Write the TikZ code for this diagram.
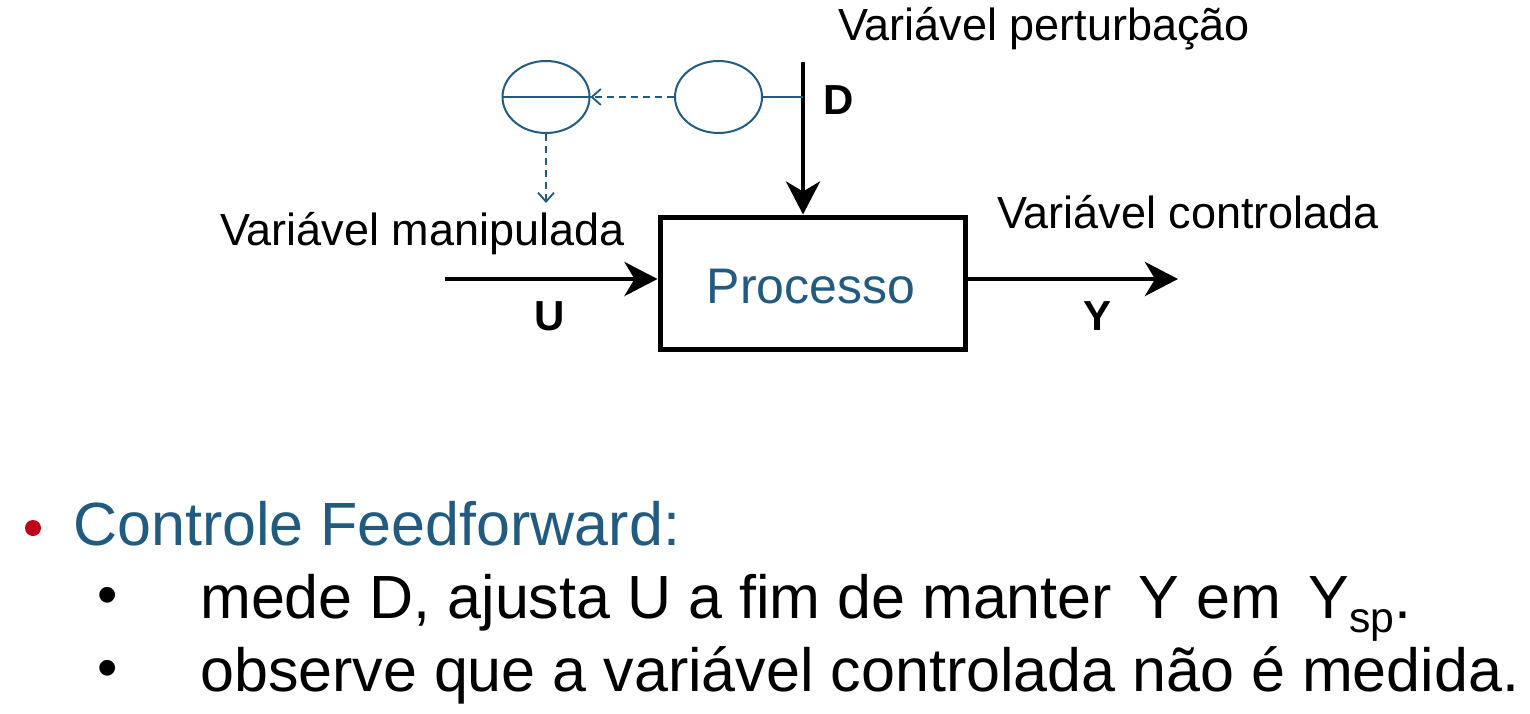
\documentclass[tikz,border=0pt]{standalone}
\usepackage{fontspec}
\setmainfont{Liberation Sans}
\usetikzlibrary{arrows.meta,shapes.geometric}
\definecolor{ffblue}{HTML}{215B7F}
\definecolor{ffred}{HTML}{C00018}
\tikzset{
  bigarrow/.style={line width=4.6pt,-{Stealth[length=33pt,width=34pt,inset=10pt]}},
  instr/.style={ellipse,draw=ffblue,line width=2pt,minimum width=87pt,minimum height=72pt,inner sep=0pt},
  sig/.style={draw=ffblue,line width=1.8pt,dash pattern=on 7pt off 5pt,-{Straight Barb[length=9pt,width=16pt]}},
  lbl/.style={inner sep=0pt,font=\fontsize{45}{54}\selectfont},
  blbl/.style={inner sep=0pt,font=\fontsize{42}{50}\selectfont\bfseries},
  txt/.style={inner sep=0pt,anchor=base west,font=\fontsize{61}{72}\selectfont},
  subbul/.style={inner sep=0pt,font=\fontsize{58}{60}\selectfont},
}
\begin{document}
\begin{tikzpicture}[x=1pt,y=-1pt]
\useasboundingbox[fill=white] (0,0) rectangle (1530,714);
% process box
\node[draw,line width=5pt,minimum width=305pt,minimum height=132pt,inner sep=0pt] (proc) at (812.5,283) {};
\node[inner sep=0pt,anchor=base,font=\fontsize{50}{60}\selectfont,text=ffblue] (ptxt) at (811,303) {Processo};
% inputs/outputs
\coordinate (uin) at (445,279);
\coordinate (yout) at (1178,279);
\coordinate (dtop) at (803,62);
\draw[bigarrow] (uin) -- (uin -| proc.west);
\draw[bigarrow] (proc.east |- yout) -- (yout);
\draw[bigarrow] (dtop) -- (dtop |- proc.north);
% labels
\node[blbl] (U) at (550,316) {U};
\node[blbl] (Y) at (1097,316) {Y};
\node[blbl] (D) at (839,100) {D};
\node[lbl,anchor=base west] (vp) at (838,41) {Variável perturbação};
\node[lbl,anchor=base west] (vm) at (220,245) {Variável manipulada};
\node[lbl,anchor=base west] (vc) at (997,228) {Variável controlada};
% feedforward instruments
\node[instr] (ft) at (718.5,97) {};
\node[instr] (fc) at (546,97) {};
\draw[draw=ffblue,line width=1.8pt] (fc.west) -- (fc.east);
\coordinate (tap) at (803,97);
\draw[draw=ffblue,line width=1.6pt] (ft.east) -- (tap);
\draw[sig] (ft.west) -- (fc.east);
\coordinate (uend) at (546,203);
\draw[sig] (fc.south) -- (uend);
% bullet text
\node[circle,fill=ffred,inner sep=0pt,minimum size=16pt] (b0) at (33,528) {};
\node[txt,text=ffblue] (t0) at (73,545) {Controle Feedforward:};
\node[subbul] (b1) at (108,601) {•};
\node[txt] (t1) at (200,618) {mede D, ajusta U a fim de manter\ \hspace{10pt}Y em\ \hspace{10pt}Y\textsubscript{sp}.};
\node[subbul] (b2) at (108,674) {•};
\node[txt] (t2) at (200,691) {observe que a variável controlada não é medida.};
\end{tikzpicture}
\end{document}
